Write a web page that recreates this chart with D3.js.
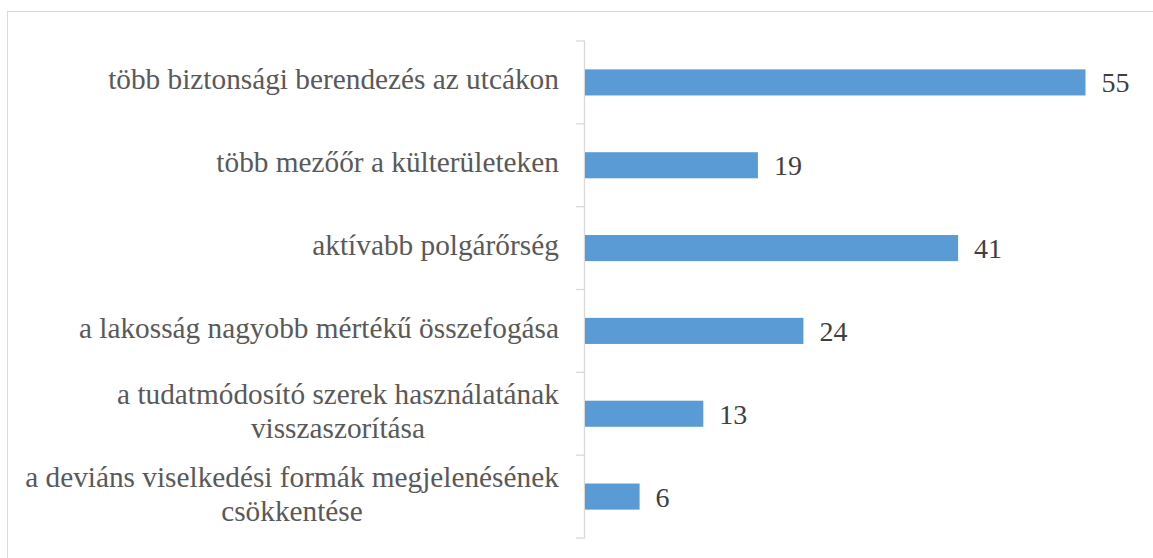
<!DOCTYPE html>
<html>
<head>
<meta charset="utf-8">
<script src="https://cdn.jsdelivr.net/npm/d3@7"></script>
<style>
  body { margin: 0; background: #fff; }
  svg { display: block; }
</style>
</head>
<body>
<div id="chart"></div>
<script>
const categories = [
  ["több biztonsági berendezés az utcákon"],
  ["több mezőőr a külterületeken"],
  ["aktívabb polgárőrség"],
  ["a lakosság nagyobb mértékű összefogása"],
  ["a tudatmódosító szerek használatának", "visszaszorítása"],
  ["a deviáns viselkedési formák megjelenésének", "csökkentése"]
];
const values = [55, 19, 41, 24, 13, 6];

const width = 1153;
const height = 558;
const axisX = 585;
const font = '"Liberation Serif", "Times New Roman", serif';

const svg = d3.select('#chart')
  .append('svg')
  .attr('width', width)
  .attr('height', height);

// chart frame (right/bottom edges fall outside the picture)
svg.append('rect')
  .attr('x', 7.5).attr('y', 11.5)
  .attr('width', width + 20).attr('height', height + 20)
  .attr('fill', 'none')
  .attr('stroke', '#d9d9d9')
  .attr('stroke-width', 1);

const x = d3.scaleLinear()
  .domain([0, 60])
  .range([axisX, 1131]);

const y = d3.scaleBand()
  .domain(d3.range(categories.length))
  .range([41, 538])
  .padding(0);

const barH = y.bandwidth() * 0.315;

// axis line + ticks between categories
const axis = svg.append('g');
axis.append('line')
  .attr('x1', axisX - 0.5).attr('x2', axisX - 0.5)
  .attr('y1', 41).attr('y2', 538)
  .attr('stroke', '#d9d9d9').attr('stroke-width', 1.3);

const tickYs = d3.range(categories.length + 1).map(i => 41 + i * y.step());
axis.selectAll('line.tick')
  .data(tickYs)
  .join('line')
  .attr('class', 'tick')
  .attr('x1', axisX - 9).attr('x2', axisX)
  .attr('y1', d => d).attr('y2', d => d)
  .attr('stroke', '#d9d9d9').attr('stroke-width', 1.3);

// bars
svg.selectAll('rect.bar')
  .data(values)
  .join('rect')
  .attr('class', 'bar')
  .attr('x', x(0))
  .attr('y', (d, i) => y(i) + y.bandwidth() / 2 - barH / 2)
  .attr('width', d => x(d) - x(0))
  .attr('height', barH)
  .attr('fill', '#5b9bd5');

// value labels
svg.selectAll('text.val')
  .data(values)
  .join('text')
  .attr('class', 'val')
  .attr('x', d => x(d) + 16)
  .attr('y', (d, i) => y(i) + y.bandwidth() / 2 + 10)
  .attr('font-family', font)
  .attr('font-size', 28)
  .attr('fill', '#404040')
  .text(d => d);

// category labels, multi-line ones centred on each other
const lineGap = 34;
const labelRight = 559;
svg.selectAll('g.lab')
  .data(categories)
  .join('g')
  .attr('class', 'lab')
  .each(function (lines, i) {
    const g = d3.select(this);
    const cy = y(i) + y.bandwidth() / 2 + 7 - (lines.length - 1) * lineGap / 2;
    const t = g.append('text')
      .attr('font-family', font)
      .attr('font-size', 29.3)
      .attr('fill', '#595959')
      .attr('text-anchor', 'middle');
    lines.forEach((ln, k) => {
      t.append('tspan').attr('x', 0).attr('y', cy + k * lineGap).text(ln);
    });
    const w = t.node().getBBox().width;
    t.attr('transform', `translate(${labelRight - w / 2},0)`);
  });
</script>
</body>
</html>
